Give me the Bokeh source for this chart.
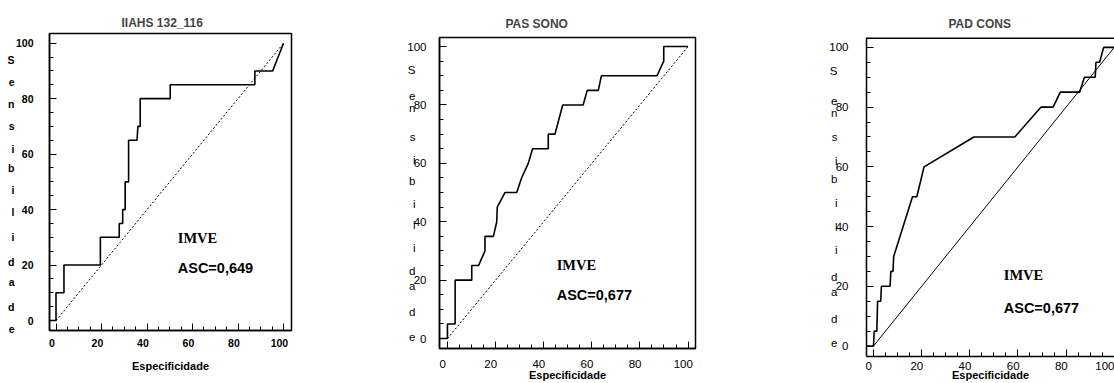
from bokeh.plotting import figure
from bokeh.models import LinearAxis, Range1d, FixedTicker, Label, Span, AllLabels
from bokeh.layouts import row
from bokeh.embed import file_html
from bokeh.resources import INLINE

# ---------------- data ----------------
titles = ["IIAHS 132_116", "PAS SONO", "PAD CONS"]
x_label = "Especificidade"
y_letters = list("Sensibilidade")
major_ticks = [0, 20, 40, 60, 80, 100]
minor_ticks = list(range(0, 101, 5))
group_label = "IMVE"
asc_labels = ["ASC=0,649", "ASC=0,677", "ASC=0,677"]

ref_x = [0, 100]
ref_y = [0, 100]

iiahs_x = [-3, 0, 0, 3.5, 3.5, 19.5, 19.5, 27.8, 27.8, 29.3, 29.3, 30.4, 30.4, 31.9, 31.9,
           35.6, 36.0, 37.0, 37.0, 50.2, 50.2, 87.4, 87.4, 95.2, 100]
iiahs_y = [0, 0, 10, 10, 20, 20, 30, 30, 35, 35, 40, 40, 50, 50, 65,
           65, 70, 70, 80, 80, 85, 85, 90, 90, 100]

pas_x = [-3, 0, 0, 3.2, 3.2, 10.1, 10.1, 12.9, 15.6, 15.6, 19.1, 20.5, 20.7, 23.9, 28.8,
         30.8, 33.6, 35.4, 41.9, 41.9, 44.7, 47.9, 56.4, 58.1, 62.7, 64.0, 87.1, 89.9, 89.9, 100]
pas_y = [0, 0, 5, 5, 20, 20, 25, 25, 30, 35, 35, 40, 45, 50, 50,
         55, 60, 65, 65, 70, 70, 80, 80, 85, 85, 90, 90, 95, 100, 100]

pad_x = [-3, 0, 0.3, 1.4, 1.7, 3.0, 3.3, 6.9, 7.2, 8.1, 8.4, 16.2, 18.0, 21.0, 41.7,
         58.7, 69.6, 74.6, 77.6, 85.6, 87.6, 92.1, 92.4, 93.9, 95.6, 100]
pad_y = [0, 0, 5, 5, 15, 15, 20, 20, 25, 25, 30, 50, 50, 60, 70,
         70, 80, 80, 85, 85, 90, 90, 95, 95, 100, 100]

curves = [(iiahs_x, iiahs_y), (pas_x, pas_y), (pad_x, pad_y)]

# ---------------- layout / style ----------------
SANS = "Liberation Sans"
SERIF = "Liberation Serif"

panels = [
    dict(width=395, mbl=49, mbr=104, mbt=33, mbb=53, xr=(-2.86, 103.5), yr=(-3.6, 103.5),
         shift=1.8, style="bold", tick_size="10.5px", num_standoff=16, let_standoff=-2,
         xlab_standoff=8, xaxis_label_standoff=10, title_offset=72, title_standoff=7,
         letter_y=[94, 86, 78, 70, 62, 55, 47, 39, 30, 21, 14, 5, -3],
         ref_dash="2 2", imve=(53.5, 29.6), asc=(53.5, 18.8), outline=True),
    dict(width=425, mbl=44, mbr=125, mbt=37, mbb=35, xr=(-3.3, 103.1), yr=(-3.4, 103.1),
         shift=2.0, style="normal", tick_size="11.5px", num_standoff=13, let_standoff=-11,
         xlab_standoff=11, xaxis_label_standoff=-2, title_offset=66, title_standoff=14,
         letter_y=[92, 83, 79, 69, 61, 54, 46, 39, 31, 23, 18, 9, 0.5],
         ref_dash="2 2", imve=(45.4, 25.1), asc=(45.4, 14.8), outline=True),
    dict(width=294, mbl=46, mbr=0, mbt=37, mbb=26, xr=(-2.9, 100.1), yr=(-3.5, 103.3),
         shift=2.0, style="normal", tick_size="11.5px", num_standoff=18, let_standoff=-11,
         xlab_standoff=5, xaxis_label_standoff=-4, title_offset=82, title_standoff=14,
         letter_y=[92, 82, 78, 70, 62, 56, 48, 40, 32, 23, 18, 9, 1],
         ref_dash="solid", imve=(54.1, 23.9), asc=(54.1, 12.9), outline=False),
]


def bare_tick_axis(minor, length, line_color):
    """An axis that draws only inward tick marks (no labels, no extent)."""
    return LinearAxis(ticker=FixedTicker(ticks=[], minor_ticks=minor),
                      major_tick_in=0, major_tick_out=0,
                      minor_tick_in=length, minor_tick_out=0,
                      minor_tick_line_color="black", minor_tick_line_width=1,
                      major_label_standoff=0, axis_label_standoff=0,
                      axis_line_color=line_color, axis_line_width=1.5)


def make_panel(i, cfg):
    xs, ys = curves[i]
    p = figure(width=cfg["width"], height=383,
               x_range=Range1d(*cfg["xr"]), y_range=Range1d(*cfg["yr"]),
               output_backend="svg", toolbar_location=None,
               x_axis_location=None, y_axis_location=None,
               min_border_left=cfg["mbl"], min_border_right=cfg["mbr"],
               min_border_top=cfg["mbt"], min_border_bottom=cfg["mbb"],
               background_fill_color="white", border_fill_color="white")
    if "frame_align" in p.properties():
        p.frame_align = False
    for g in p.grid:
        g.visible = False
    p.outline_line_color = "black" if cfg["outline"] else None
    p.outline_line_width = 1.5

    p.title.text = titles[i]
    p.title.text_font = SANS
    p.title.text_font_style = "bold"
    p.title.text_font_size = "12px"
    p.title.align = "left"
    p.title.offset = cfg["title_offset"]
    p.title.standoff = cfg["title_standoff"]

    # bottom: short ticks every 5, long ticks every 20 (inside the frame)
    p.add_layout(bare_tick_axis(minor_ticks, 4, "black"), "below")
    p.add_layout(bare_tick_axis(major_ticks, 7, None), "below")

    # bottom: labels on a slightly shifted range (labels sit a little left of their ticks)
    s = cfg["shift"]
    p.extra_x_ranges = {"lab": Range1d(cfg["xr"][0] + s, cfg["xr"][1] + s)}
    lab_axis = LinearAxis(x_range_name="lab", ticker=FixedTicker(ticks=major_ticks, minor_ticks=[]),
                          major_tick_in=0, major_tick_out=0, minor_tick_in=0, minor_tick_out=0,
                          axis_line_color=None, major_tick_line_color=None, minor_tick_line_color=None,
                          major_label_standoff=cfg["xlab_standoff"],
                          major_label_text_font=SANS, major_label_text_font_style=cfg["style"],
                          major_label_text_font_size=cfg["tick_size"], major_label_text_color="black",
                          major_label_policy=AllLabels(),
                          axis_label=x_label, axis_label_standoff=cfg["xaxis_label_standoff"],
                          axis_label_text_font=SANS, axis_label_text_font_style="bold",
                          axis_label_text_font_size="11px", axis_label_text_color="black")
    p.add_layout(lab_axis, "below")

    # left: numbers axis with inward ticks
    num_axis = LinearAxis(ticker=FixedTicker(ticks=major_ticks, minor_ticks=minor_ticks),
                          major_tick_in=7, major_tick_out=0, minor_tick_in=4, minor_tick_out=0,
                          axis_line_width=1.5, axis_line_color="black",
                          major_tick_line_color="black", minor_tick_line_color="black",
                          major_label_standoff=cfg["num_standoff"],
                          major_label_text_font=SANS, major_label_text_font_style=cfg["style"],
                          major_label_text_font_size=cfg["tick_size"], major_label_text_color="black",
                          major_label_policy=AllLabels())
    p.add_layout(num_axis, "left")

    # left: stacked letters of "Sensibilidade"
    ly = cfg["letter_y"]
    let_axis = LinearAxis(ticker=FixedTicker(ticks=ly, minor_ticks=[]),
                          major_label_overrides={float(v): l for v, l in zip(ly, y_letters)},
                          major_tick_in=0, major_tick_out=0, minor_tick_in=0, minor_tick_out=0,
                          axis_line_color=None, major_tick_line_color=None, minor_tick_line_color=None,
                          major_label_standoff=cfg["let_standoff"],
                          major_label_orientation="horizontal",
                          major_label_text_font=SANS, major_label_text_font_style=cfg["style"],
                          major_label_text_font_size=cfg["tick_size"], major_label_text_color="black",
                          major_label_policy=AllLabels())
    p.add_layout(let_axis, "left")

    if not cfg["outline"]:
        p.add_layout(Span(location=cfg["yr"][1], dimension="width",
                          line_color="black", line_width=3))

    # reference diagonal and ROC curve
    p.line(ref_x, ref_y, line_color="black", line_width=1, line_dash=cfg["ref_dash"])
    p.line(xs, ys, line_color="black", line_width=1.6)

    # annotations
    p.add_layout(Label(x=cfg["imve"][0], y=cfg["imve"][1], text=group_label,
                       text_font=SERIF, text_font_style="bold", text_font_size="14.5px",
                       text_baseline="middle", text_align="left", text_color="black"))
    p.add_layout(Label(x=cfg["asc"][0], y=cfg["asc"][1], text=asc_labels[i],
                       text_font=SANS, text_font_style="bold", text_font_size="14.5px",
                       text_baseline="middle", text_align="left", text_color="black"))
    return p


figs = [make_panel(i, c) for i, c in enumerate(panels)]
layout = row(figs)

open("out.html", "w").write(file_html(layout, INLINE))
